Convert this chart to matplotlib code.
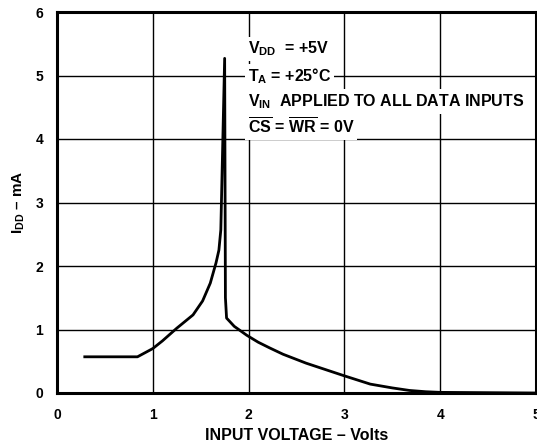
import numpy as np
import matplotlib
matplotlib.use('Agg')
import matplotlib.pyplot as plt

plt.rcParams['font.family'] = ['Liberation Sans', 'DejaVu Sans']
plt.rcParams['font.weight'] = 'bold'
plt.rcParams['axes.labelweight'] = 'bold'
plt.rcParams['mathtext.fontset'] = 'custom'
plt.rcParams['mathtext.rm'] = 'Liberation Sans:bold'
plt.rcParams['mathtext.it'] = 'Liberation Sans:bold'
plt.rcParams['mathtext.bf'] = 'Liberation Sans:bold'

# Courbe I_DD en fonction de la tension d'entrée
v_in = [0.29, 0.84, 1.00, 1.10, 1.25, 1.42, 1.52, 1.60, 1.66, 1.69, 1.71, 1.75,
        1.758, 1.77, 1.85, 1.98, 2.10, 2.22, 2.36, 2.60, 2.80, 3.00, 3.27,
        3.50, 3.68, 3.85, 4.00, 5.00]
i_dd = [0.57, 0.57, 0.70, 0.82, 1.02, 1.23, 1.45, 1.73, 2.05, 2.25, 2.57, 5.27,
        1.50, 1.18, 1.05, 0.91, 0.80, 0.71, 0.61, 0.47, 0.37, 0.27, 0.14,
        0.08, 0.04, 0.02, 0.01, 0.0]

x_ticks = [0, 1, 2, 3, 4, 5]
y_ticks = [0, 1, 2, 3, 4, 5, 6]

fig = plt.figure(figsize=(5.37, 4.45), dpi=100)
ax = fig.add_axes([57/537, 1 - 393/445, 479/537, 381/445])

ax.plot(v_in, i_dd, color='black', linewidth=2.0, zorder=3)

ax.set_xlim(0, 5)
ax.set_ylim(0, 6)
ax.set_xticks(x_ticks)
ax.set_yticks(y_ticks)
ax.tick_params(axis='x', length=0, labelsize=10, pad=11)
ax.tick_params(axis='y', length=0, labelsize=10, pad=10)
ax.grid(True, color='black', linewidth=1.0)
ax.set_axisbelow(True)
for s in ax.spines.values():
    s.set_linewidth(2.2)

ax.set_xlabel('INPUT VOLTAGE – Volts', fontsize=11.5, labelpad=4)
ax.set_ylabel('I$_{DD}$ – mA', fontsize=11, labelpad=6)

box = dict(facecolor='white', edgecolor='none', pad=2.0)
lignes = ['V$_{DD}$  = +5V',
          'T$_{A}$ = +25°C',
          'V$_{IN}$  APPLIED TO ALL DATA INPUTS',
          r'$\overline{\mathrm{CS}}$ = $\overline{\mathrm{WR}}$ = 0V']
y_txt = [5.42, 4.99, 4.59, 4.19]
for txt, yy in zip(lignes, y_txt):
    ax.text(1.99, yy, txt, fontsize=11.5, ha='left', va='center', bbox=box, zorder=2)

fig.savefig('out.png', dpi=100)
plt.close(fig)
